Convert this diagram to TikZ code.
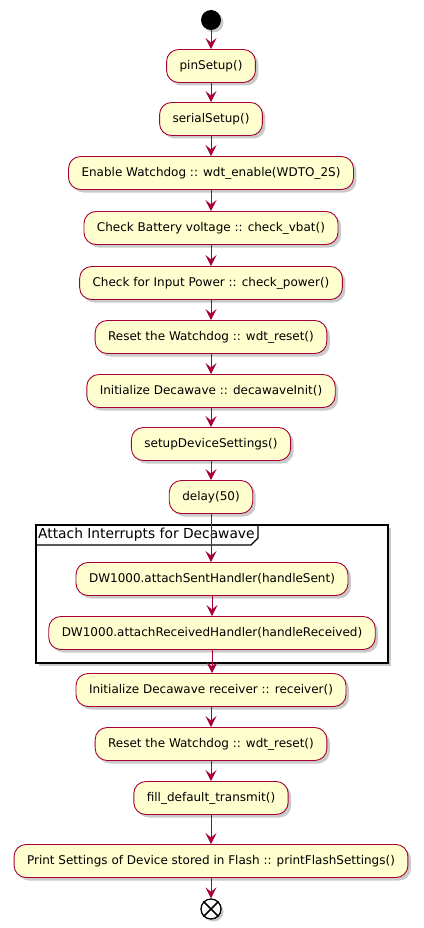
\documentclass[tikz,border=0pt]{standalone}
\usepackage{fontspec}
\setmainfont{DejaVu Sans}
\usetikzlibrary{arrows.meta,shadows,calc}
\definecolor{pumlfill}{HTML}{FEFECE}
\definecolor{pumlline}{HTML}{A80036}
\tikzset{
  x=1pt, y=-1pt,
  act/.style={draw=pumlline, fill=pumlfill, line width=0.9pt, rounded corners=12pt,
    minimum height=33pt, inner xsep=13pt, inner ysep=0pt,
    font=\fontsize{12}{14}\selectfont,
    drop shadow={shadow xshift=3pt, shadow yshift=-3pt, opacity=0.35, fill=black!60}},
  flow/.style={draw=pumlline, line width=0.9pt, -{Stealth[length=11pt,width=11pt,inset=4.5pt]}},
}
\begin{document}
\begin{tikzpicture}
\useasboundingbox (0,0) rectangle (423,928);
% start
\node[circle, fill=black, minimum size=20pt, inner sep=0pt,
  drop shadow={shadow xshift=2.5pt, shadow yshift=-2.5pt, opacity=0.35, fill=black!60}] (start) at (211,20) {};
% activities
\node[act] (n1) at (211,66) {pinSetup()};
\node[act] (n2) at (211,119) {serialSetup()};
\node[act] (n3) at (211,173) {Enable Watchdog :: wdt\_enable(WDTO\_2S)};
\node[act] (n4) at (211,228) {Check Battery voltage :: check\_vbat()};
\node[act] (n5) at (211,283) {Check for Input Power :: check\_power()};
\node[act] (n6) at (211,337) {Reset the Watchdog :: wdt\_reset()};
\node[act] (n7) at (211,391) {Initialize Decawave :: decawaveInit()};
\node[act] (n8) at (211,444) {setupDeviceSettings()};
\node[act] (n9) at (211,497) {delay(50)};
% group frame
\draw[black, fill=white, line width=1.6pt,
  drop shadow={shadow xshift=3pt, shadow yshift=-3pt, opacity=0.35, fill=black!60}]
  (36,525) rectangle (388,663);
\draw[black, line width=1.2pt] (36,545) -- (251,545) -- (258,538) -- (258,525);
\node[anchor=west, inner sep=0pt, font=\fontsize{13.8}{15}\selectfont] (gtitle) at (38,535) {Attach Interrupts for Decawave};
\node[act] (n10) at (212,579) {DW1000.attachSentHandler(handleSent)};
\node[act] (n11) at (212,633) {DW1000.attachReceivedHandler(handleReceived)};
% after group
\node[act] (n12) at (211,690) {Initialize Decawave receiver :: receiver()};
\node[act] (n13) at (211,744) {Reset the Watchdog :: wdt\_reset()};
\node[act] (n14) at (211,798) {fill\_default\_transmit()};
\node[act] (n15) at (211,861) {Print Settings of Device stored in Flash :: printFlashSettings()};
% end
\node[circle, draw=black, fill=white, line width=1.3pt, minimum size=20pt, inner sep=0pt,
  drop shadow={shadow xshift=2.5pt, shadow yshift=-2.5pt, opacity=0.35, fill=black!60}] (end) at (211,909) {};
\draw[black, line width=1.5pt] (end.north west) -- (end.south east) (end.north east) -- (end.south west);
% connectors
\draw[flow] (start) -- (n1);
\draw[flow] (n1) -- (n2);
\draw[flow] (n2) -- (n3);
\draw[flow] (n3) -- (n4);
\draw[flow] (n4) -- (n5);
\draw[flow] (n5) -- (n6);
\draw[flow] (n6) -- (n7);
\draw[flow] (n7) -- (n8);
\draw[flow] (n8) -- (n9);
\draw[flow] (n9.south) -- (n9.south |- n10.north);
\draw[flow] (n10) -- (n11);
\draw[flow] (n11.south) -- (n11.south |- n12.north);
\draw[flow] (n12) -- (n13);
\draw[flow] (n13) -- (n14);
\draw[flow] (n14) -- (n15);
\draw[flow] (n15) -- (end);
\end{tikzpicture}
\end{document}
